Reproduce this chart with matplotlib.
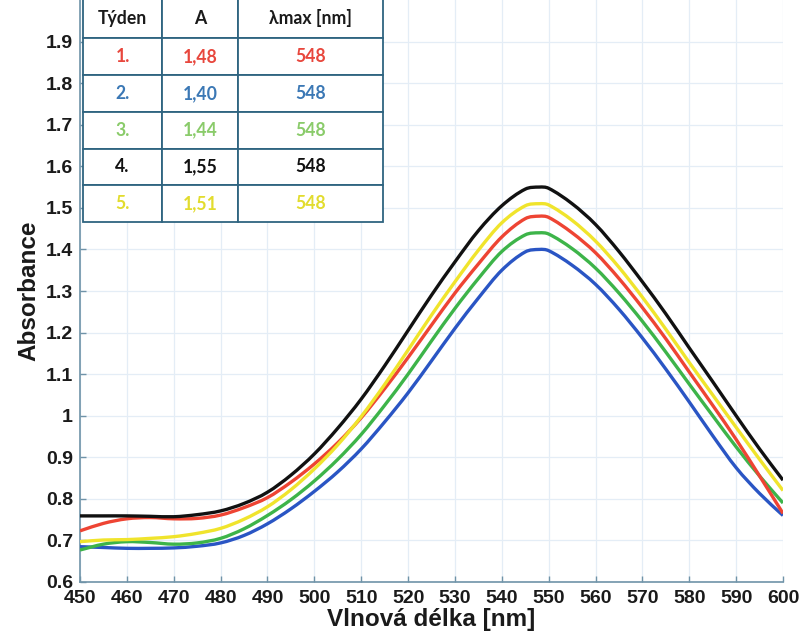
import matplotlib
matplotlib.use("Agg")
import matplotlib.pyplot as plt
from matplotlib.path import Path
from matplotlib.patches import PathPatch
import numpy as np

# Absorption spectra measured over five weeks
wavelength = [450, 455, 460, 465, 470, 475, 480, 485, 490, 495, 500, 505, 510, 515,
              520, 525, 530, 535, 540, 545, 548, 550, 555, 560, 565, 570, 575, 580,
              585, 590, 595, 600]

week1 = [0.723, 0.741, 0.752, 0.755, 0.752, 0.753, 0.761, 0.779, 0.803, 0.840, 0.884,
         0.935, 0.995, 1.065, 1.140, 1.218, 1.295, 1.365, 1.430, 1.474, 1.480, 1.477,
         1.440, 1.392, 1.330, 1.260, 1.185, 1.105, 1.025, 0.943, 0.855, 0.765]
week2 = [0.685, 0.683, 0.681, 0.681, 0.682, 0.686, 0.694, 0.712, 0.740, 0.776, 0.818,
         0.865, 0.920, 0.985, 1.055, 1.132, 1.210, 1.283, 1.350, 1.394, 1.400, 1.397,
         1.362, 1.316, 1.256, 1.187, 1.112, 1.033, 0.952, 0.875, 0.813, 0.760]
week3 = [0.677, 0.691, 0.697, 0.695, 0.691, 0.694, 0.705, 0.728, 0.760, 0.798, 0.843,
         0.895, 0.955, 1.025, 1.100, 1.180, 1.258, 1.330, 1.395, 1.435, 1.440, 1.437,
         1.402, 1.355, 1.295, 1.227, 1.153, 1.076, 1.000, 0.925, 0.855, 0.790]
week4 = [0.759, 0.759, 0.759, 0.758, 0.757, 0.762, 0.771, 0.789, 0.816, 0.857, 0.908,
         0.970, 1.040, 1.120, 1.205, 1.290, 1.370, 1.445, 1.505, 1.545, 1.550, 1.547,
         1.510, 1.460, 1.395, 1.322, 1.245, 1.163, 1.082, 1.000, 0.920, 0.845]
week5 = [0.697, 0.701, 0.702, 0.705, 0.709, 0.717, 0.729, 0.751, 0.781, 0.822, 0.872,
         0.930, 0.998, 1.075, 1.158, 1.242, 1.322, 1.398, 1.464, 1.505, 1.510, 1.507,
         1.470, 1.420, 1.357, 1.285, 1.208, 1.128, 1.050, 0.972, 0.895, 0.820]

# Summary table
table_header = ["Týden", "A", "λmax [nm]"]
week_labels = ["1.", "2.", "3.", "4.", "5."]
abs_max = [1.48, 1.40, 1.44, 1.55, 1.51]
lambda_max = [548, 548, 548, 548, 548]

line_colors = ["#ee4433", "#2a55c4", "#3db449", "#111111", "#f0e42c"]
text_colors = ["#e8473d", "#3b78b5", "#8acb6a", "#111111", "#e2dc2e"]
draw_order = [1, 2, 0, 4, 3]   # blue, green, red, yellow, black

x_ticks = list(range(450, 601, 10))
y_ticks = [0.6, 0.7, 0.8, 0.9, 1.0, 1.1, 1.2, 1.3, 1.4, 1.5, 1.6, 1.7, 1.8, 1.9]

series = [week1, week2, week3, week4, week5]


def smooth_path(xs, ys):
    """Cubic Hermite curve through the measured points, as Bezier segments."""
    xs = np.asarray(xs, float)
    ys = np.asarray(ys, float)
    n = len(xs)
    m = np.empty(n)
    m[1:-1] = (ys[2:] - ys[:-2]) / (xs[2:] - xs[:-2])
    m[0] = (ys[1] - ys[0]) / (xs[1] - xs[0])
    m[-1] = (ys[-1] - ys[-2]) / (xs[-1] - xs[-2])
    verts = [(xs[0], ys[0])]
    codes = [Path.MOVETO]
    for i in range(n - 1):
        h = xs[i + 1] - xs[i]
        verts += [(xs[i] + h / 3, ys[i] + m[i] * h / 3),
                  (xs[i + 1] - h / 3, ys[i + 1] - m[i + 1] * h / 3),
                  (xs[i + 1], ys[i + 1])]
        codes += [Path.CURVE4] * 3
    return Path(verts, codes)


W, H = 806, 638
fig = plt.figure(figsize=(W / 100, H / 100), dpi=100)
ax = fig.add_axes([80 / W, 1 - 582 / H, 703 / W, 582 / H])

label_font = ["Liberation Sans", "DejaVu Sans"]
spine_col = "#6f93a8"

for i in draw_order:
    ax.add_patch(PathPatch(smooth_path(wavelength, series[i]), fill=False,
                           edgecolor=line_colors[i], lw=2.4, capstyle="butt",
                           zorder=3))

ax.set_xlim(450, 600)
ax.set_ylim(0.6, 2.0)
ax.set_xticks(x_ticks)
ax.set_yticks(y_ticks)
ax.set_yticklabels([f"{v:g}" for v in y_ticks])
ax.grid(True, color="#e4edf6", lw=0.9, zorder=0)
ax.set_axisbelow(True)

for s in ["top", "right"]:
    ax.spines[s].set_visible(False)
for s in ["left", "bottom"]:
    ax.spines[s].set_color(spine_col)
    ax.spines[s].set_linewidth(1.2)

ax.tick_params(direction="in", length=4, width=1, color=spine_col)
ax.tick_params(axis="x", pad=5.5)
ax.tick_params(axis="y", pad=5)
for lab in ax.get_xticklabels() + ax.get_yticklabels():
    lab.set_fontfamily(label_font)
    lab.set_fontweight("bold")
    lab.set_fontsize(14)
    lab.set_color("#1a1a1a")

ax.set_xlabel("Vlnová délka [nm]", fontsize=17.5, fontweight="bold",
              family=label_font, labelpad=1, color="#1a1a1a")
ax.set_ylabel("Absorbance", fontsize=17.5, fontweight="bold",
              family=label_font, labelpad=4, color="#1a1a1a")

# Summary table in the upper-left corner
cell_text = [[w, f"{a:.2f}".replace(".", ","), str(l)]
             for w, a, l in zip(week_labels, abs_max, lambda_max)]
x0 = 3 / 703
y0 = (582 - 222) / 582
tw = 300 / 703
th = 224 / 582
tab = ax.table(cellText=cell_text, colLabels=table_header, cellLoc="center",
               colWidths=[79, 76, 145], bbox=[x0, y0, tw, th], zorder=6)
tab.auto_set_font_size(False)
tab.set_clip_on(False)
table_font = ["Lato", "DejaVu Sans"]
for (r, c), cell in tab.get_celld().items():
    cell.set_edgecolor("#2f6480")
    cell.set_linewidth(1.3)
    cell.set_facecolor("white")
    cell.set_height(40 if r == 0 else 36.5)
    cell.set_clip_on(False)
    t = cell.get_text()
    t.set_fontfamily(table_font)
    t.set_fontweight("bold")
    t.set_fontsize(12.7)
    t.set_color("#1a1a1a" if r == 0 else text_colors[r - 1])

fig.savefig("out.png", dpi=100)
